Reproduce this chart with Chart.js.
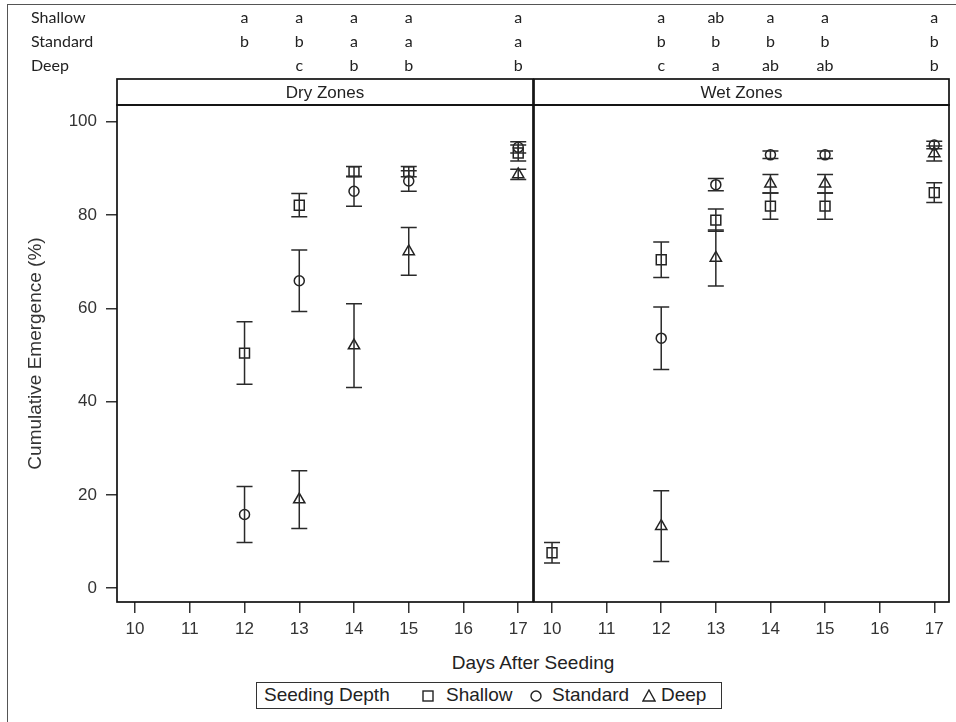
<!DOCTYPE html>
<html>
<head>
<meta charset="utf-8">
<script src="https://cdn.jsdelivr.net/npm/chart.js@4.4.1/dist/chart.umd.min.js"></script>
<style>
  body { margin: 0; background: #fff; }
  #page { position: relative; width: 956px; height: 722px; overflow: hidden;
          font-family: "Liberation Sans", Arial, sans-serif; color: #222; }
  #frame { position: absolute; left: 7px; top: 4px; width: 980px; height: 760px;
           border-left: 1px solid #555; border-top: 1px solid #555; }
  canvas { position: absolute; top: 0; }
  #dry { left: 0; }
  #wet { left: 533px; }
  #xtitle { position: absolute; left: 383px; width: 300px; top: 652px; text-align: center; font-size: 19px; }
  #legend { position: absolute; left: 256px; top: 682px; width: 466px; height: 27px; box-sizing: border-box;
            border: 1.5px solid #333; font-size: 19px; }
  #legend span, #legend svg { position: absolute; }
  #legend span { top: 1px; line-height: 22px; }
</style>
</head>
<body>
<div id="page">
  <div id="frame"></div>
  <canvas id="dry" width="534" height="650"></canvas>
  <canvas id="wet" width="423" height="650"></canvas>
  <div id="xtitle">Days After Seeding</div>
  <div id="legend">
    <span style="left:7px">Seeding Depth</span>
    <svg style="left:165px;top:7px" width="12" height="12"><rect x="1" y="1" width="10" height="10" fill="none" stroke="#222" stroke-width="1.4"/></svg>
    <span style="left:189px">Shallow</span>
    <svg style="left:273px;top:7px" width="12" height="12"><circle cx="6" cy="6" r="5" fill="none" stroke="#222" stroke-width="1.4"/></svg>
    <span style="left:295px">Standard</span>
    <svg style="left:385px;top:6px" width="14" height="13"><path d="M7 1 L13 12 L1 12 Z" fill="none" stroke="#222" stroke-width="1.4"/></svg>
    <span style="left:404px">Deep</span>
  </div>
</div>
<script>
const dayTicks = [10, 11, 12, 13, 14, 15, 16, 17];
const yTicks = [0, 20, 40, 60, 80, 100];

// Dry zones: mean cumulative emergence and error (+/-)
const dryShallowDays = [12, 13, 14, 15, 17];
const dryShallowMean = [50.4, 82.1, 89.3, 89.3, 93.3];
const dryShallowErr = [6.7, 2.5, 1.1, 1.1, 1.7];

const dryStandardDays = [12, 13, 14, 15, 17];
const dryStandardMean = [15.8, 65.9, 85.1, 87.3, 94.5];
const dryStandardErr = [6.0, 6.6, 3.2, 2.2, 1.2];

const dryDeepDays = [13, 14, 15, 17];
const dryDeepMean = [19.0, 52.0, 72.2, 88.7];
const dryDeepErr = [6.2, 9.0, 5.1, 1.1];

// Wet zones
const wetShallowDays = [10, 12, 13, 14, 15, 17];
const wetShallowMean = [7.6, 70.4, 78.9, 81.9, 81.9, 84.8];
const wetShallowErr = [2.2, 3.8, 2.4, 2.8, 2.8, 2.1];

const wetStandardDays = [12, 13, 14, 15, 17];
const wetStandardMean = [53.6, 86.5, 92.9, 92.9, 95.0];
const wetStandardErr = [6.7, 1.3, 0.8, 0.8, 0.8];

const wetDeepDays = [12, 13, 14, 15, 17];
const wetDeepMean = [13.3, 70.8, 86.7, 86.7, 93.2];
const wetDeepErr = [7.6, 6.0, 2.0, 2.0, 1.6];

// mean separation letters printed above each panel
const letterDays = [12, 13, 14, 15, 17];
const rowNames = ['Shallow', 'Standard', 'Deep'];
const dryShallowLetters = ['a', 'a', 'a', 'a', 'a'];
const dryStandardLetters = ['b', 'b', 'a', 'a', 'a'];
const dryDeepLetters = ['', 'c', 'b', 'b', 'b'];
const wetShallowLetters = ['a', 'ab', 'a', 'a', 'a'];
const wetStandardLetters = ['b', 'b', 'b', 'b', 'b'];
const wetDeepLetters = ['c', 'a', 'ab', 'ab', 'b'];

const INK = '#222';
const FONT = '"Liberation Sans", Arial, sans-serif';

function series(label, days, mean, err, style, radius) {
  return {
    label: label,
    err: err,
    data: days.map((d, i) => ({ x: d, y: mean[i] })),
    pointStyle: style,
    pointRadius: radius,
    pointHoverRadius: radius,
    pointBorderWidth: 1.5,
    borderColor: INK,
    backgroundColor: 'rgba(0,0,0,0)',
    showLine: false
  };
}

// error bars, panel box, header strip and letter rows
const panelPlugin = {
  id: 'panel',
  afterDatasetsDraw(chart, args, opts) {
    const ctx = chart.ctx, a = chart.chartArea;
    const x = chart.scales.x, y = chart.scales.y;
    ctx.save();
    ctx.strokeStyle = '#2a2a2a';
    ctx.lineWidth = 1.5;
    chart.data.datasets.forEach(ds => {
      ds.data.forEach((p, i) => {
        const px = x.getPixelForValue(p.x);
        const hi = y.getPixelForValue(p.y + ds.err[i]);
        const lo = y.getPixelForValue(p.y - ds.err[i]);
        ctx.beginPath();
        ctx.moveTo(px, hi); ctx.lineTo(px, lo);
        ctx.moveTo(px - 8, hi); ctx.lineTo(px + 8, hi);
        ctx.moveTo(px - 8, lo); ctx.lineTo(px + 8, lo);
        ctx.stroke();
      });
    });

    ctx.strokeStyle = '#111';
    ctx.lineWidth = 1.7;
    ctx.strokeRect(a.left, a.top, a.width, a.height);
    ctx.strokeRect(a.left, a.top - 26, a.width, 26);

    ctx.fillStyle = INK;
    ctx.textAlign = 'center';
    ctx.textBaseline = 'middle';
    ctx.font = '17px ' + FONT;
    ctx.fillText(opts.title, (a.left + a.right) / 2, a.top - 12);

    ctx.font = '16px Lato, "Open Sans", sans-serif';
    opts.rows.forEach((row, r) => {
      row.forEach((t, i) => ctx.fillText(t, x.getPixelForValue(opts.days[i]), 18 + r * 24));
    });
    if (opts.names) {
      ctx.textAlign = 'left';
      opts.names.forEach((n, r) => ctx.fillText(n, 31, 18 + r * 24));
    }
    ctx.restore();
  }
};

function panelOptions(showY, panel) {
  return {
    responsive: false,
    animation: false,
    devicePixelRatio: 1,
    events: [],
    layout: {
      autoPadding: false,
      padding: showY ? { top: 105, left: 0, right: 1, bottom: 0 }
                     : { top: 105, left: 1, right: 7, bottom: 0 }
    },
    plugins: { legend: { display: false }, tooltip: { enabled: false }, panel: panel },
    scales: {
      x: {
        type: 'linear', min: 9.67, max: 17.27,
        afterBuildTicks: s => { s.ticks = dayTicks.map(v => ({ value: v })); },
        afterFit: s => { s.height = 48; },
        border: { display: false },
        grid: { drawOnChartArea: false, tickLength: 11, color: '#333', lineWidth: 1.5 },
        ticks: { font: { size: 17, family: FONT }, color: '#333', padding: 6, maxRotation: 0, autoSkip: false }
      },
      y: {
        display: showY,
        type: 'linear', min: -2.96, max: 103.58,
        afterBuildTicks: s => { s.ticks = yTicks.map(v => ({ value: v })); },
        afterFit: s => { s.width = showY ? 117 : 0; },
        border: { display: false },
        grid: { drawOnChartArea: false, tickLength: 11, color: '#333', lineWidth: 1.5 },
        ticks: { font: { size: 17, family: FONT }, color: '#333', padding: 9 },
        title: { display: true, text: 'Cumulative Emergence (%)', color: '#333',
                 font: { size: 19, family: FONT }, padding: { top: 24, bottom: 0 } }
      }
    }
  };
}

new Chart(document.getElementById('dry'), {
  type: 'scatter',
  data: {
    datasets: [
      series('Shallow', dryShallowDays, dryShallowMean, dryShallowErr, 'rect', 7),
      series('Standard', dryStandardDays, dryStandardMean, dryStandardErr, 'circle', 5),
      series('Deep', dryDeepDays, dryDeepMean, dryDeepErr, 'triangle', 6.5)
    ]
  },
  options: panelOptions(true, {
    title: 'Dry Zones', days: letterDays, names: rowNames,
    rows: [dryShallowLetters, dryStandardLetters, dryDeepLetters]
  }),
  plugins: [panelPlugin]
});

new Chart(document.getElementById('wet'), {
  type: 'scatter',
  data: {
    datasets: [
      series('Shallow', wetShallowDays, wetShallowMean, wetShallowErr, 'rect', 7),
      series('Standard', wetStandardDays, wetStandardMean, wetStandardErr, 'circle', 5),
      series('Deep', wetDeepDays, wetDeepMean, wetDeepErr, 'triangle', 6.5)
    ]
  },
  options: panelOptions(false, {
    title: 'Wet Zones', days: letterDays, names: null,
    rows: [wetShallowLetters, wetStandardLetters, wetDeepLetters]
  }),
  plugins: [panelPlugin]
});
</script>
</body>
</html>
